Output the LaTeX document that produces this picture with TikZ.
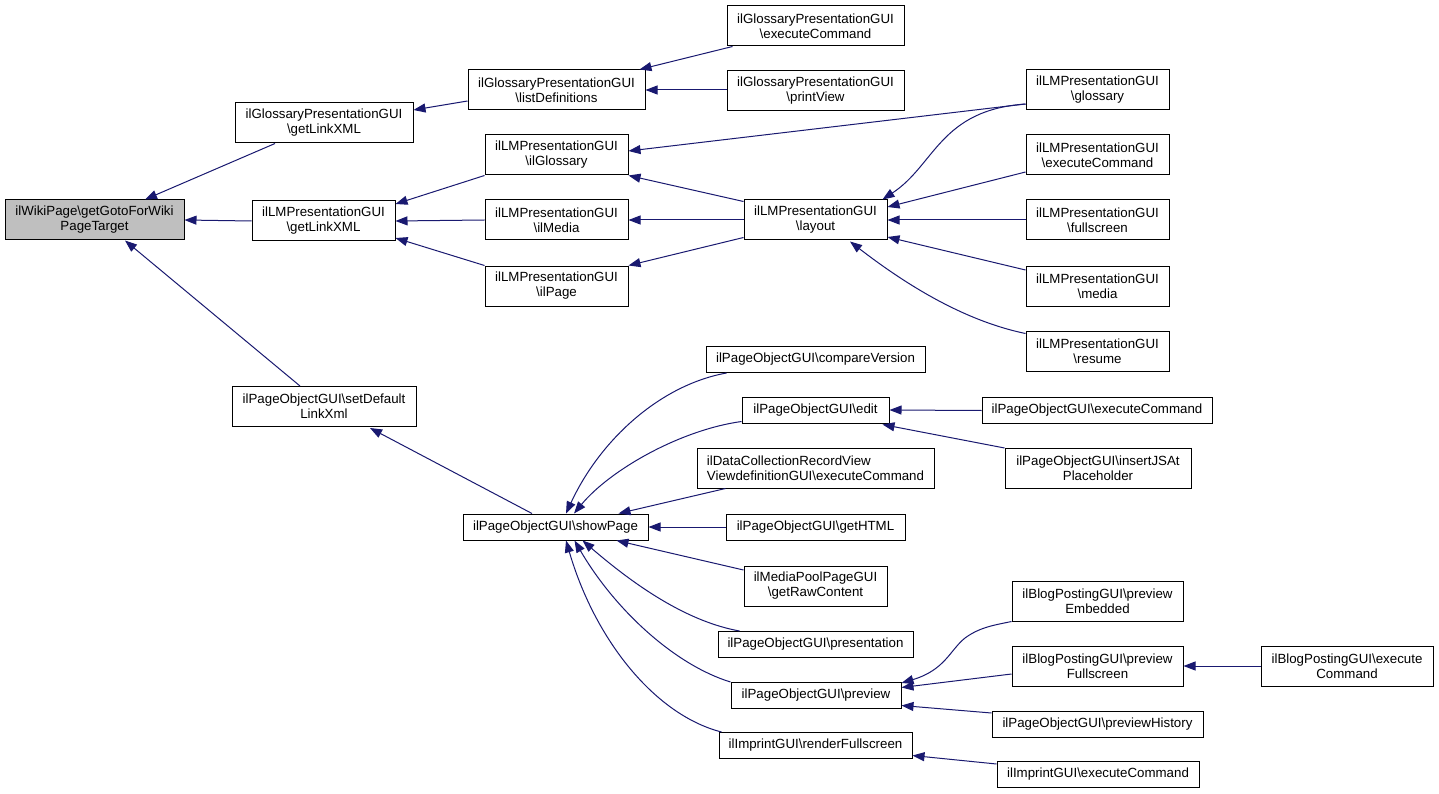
\documentclass[tikz,border=0pt]{standalone}
\usepackage{fontspec}
\setmainfont{Liberation Sans}
\usetikzlibrary{arrows.meta,calc}
\definecolor{edgecol}{HTML}{191970}
\definecolor{rootfill}{HTML}{BFBFBF}
\begin{document}
\begin{tikzpicture}[x=1pt,y=-1pt,
  box/.style={draw=black, line width=1pt, fill=white, inner sep=0pt, align=center,
    font=\fontsize{13.3}{15}\selectfont, minimum height=40pt},
  sbox/.style={box, minimum height=26pt},
  edge/.style={draw=edgecol, line width=1pt, {Triangle[length=12pt,width=9pt]}-}]
\path[use as bounding box, fill=white] (0,0) rectangle (1439,794);

% column 1
\node[box, fill=rootfill, minimum width=179pt] (wiki) at (94.5,220) {ilWikiPage\textbackslash getGotoForWiki\\PageTarget};
% column 2
\node[box, minimum width=178pt] (glgl) at (324,123) {ilGlossaryPresentationGUI\\\textbackslash getLinkXML};
\node[box, minimum width=143pt] (lmgl) at (323.5,221) {ilLMPresentationGUI\\\textbackslash getLinkXML};
\node[box, minimum width=184pt] (setdef) at (324,406.5) {ilPageObjectGUI\textbackslash setDefault\\LinkXml};
% column 3
\node[box, minimum width=177pt] (listdef) at (556.5,90) {ilGlossaryPresentationGUI\\\textbackslash listDefinitions};
\node[box, minimum width=143pt] (lmilglos) at (556.5,155) {ilLMPresentationGUI\\\textbackslash ilGlossary};
\node[box, minimum width=143pt] (lmilmedia) at (556.5,220) {ilLMPresentationGUI\\\textbackslash ilMedia};
\node[box, minimum width=143pt] (lmilpage) at (556.5,286) {ilLMPresentationGUI\\\textbackslash ilPage};
\node[sbox, minimum width=185pt] (showpage) at (555.5,527) {ilPageObjectGUI\textbackslash showPage};
% column 4
\node[box, minimum width=177pt] (glexec) at (815.5,26) {ilGlossaryPresentationGUI\\\textbackslash executeCommand};
\node[box, minimum width=177pt] (glprint) at (815.5,91) {ilGlossaryPresentationGUI\\\textbackslash printView};
\node[box, minimum width=143pt] (layout) at (815.5,220) {ilLMPresentationGUI\\\textbackslash layout};
\node[sbox, minimum width=219pt] (compare) at (815.5,359.5) {ilPageObjectGUI\textbackslash compareVersion};
\node[sbox, minimum width=147pt] (edit) at (815.5,410) {ilPageObjectGUI\textbackslash edit};
\node[box, minimum width=237pt, align=left] (datacoll) at (815.5,468) {ilDataCollectionRecordView\\ViewdefinitionGUI\textbackslash executeCommand};
\node[sbox, minimum width=179pt] (gethtml) at (815.5,527) {ilPageObjectGUI\textbackslash getHTML};
\node[box, minimum width=143pt] (mediapool) at (815.5,586) {ilMediaPoolPageGUI\\\textbackslash getRawContent};
\node[sbox, minimum width=195pt] (presentation) at (815.5,644.5) {ilPageObjectGUI\textbackslash presentation};
\node[sbox, minimum width=170pt] (preview) at (816,695.5) {ilPageObjectGUI\textbackslash preview};
\node[sbox, minimum width=193pt] (renderfull) at (815.5,745.5) {ilImprintGUI\textbackslash renderFullscreen};
% column 5
\node[box, minimum width=143pt] (lmglossary) at (1097.5,89.5) {ilLMPresentationGUI\\\textbackslash glossary};
\node[box, minimum width=143pt] (lmexec) at (1097.5,155) {ilLMPresentationGUI\\\textbackslash executeCommand};
\node[box, minimum width=143pt] (lmfull) at (1097.5,220) {ilLMPresentationGUI\\\textbackslash fullscreen};
\node[box, minimum width=143pt] (lmmedia) at (1097.5,286) {ilLMPresentationGUI\\\textbackslash media};
\node[box, minimum width=143pt] (lmresume) at (1097.5,351) {ilLMPresentationGUI\\\textbackslash resume};
\node[sbox, minimum width=230pt] (poexec) at (1097,410.5) {ilPageObjectGUI\textbackslash executeCommand};
\node[box, minimum width=186pt] (insertjs) at (1098,468.5) {ilPageObjectGUI\textbackslash insertJSAt\\Placeholder};
\node[box, minimum width=171pt] (prevemb) at (1097.5,601) {ilBlogPostingGUI\textbackslash preview\\Embedded};
\node[box, minimum width=171pt] (prevfull) at (1097.5,666) {ilBlogPostingGUI\textbackslash preview\\Fullscreen};
\node[sbox, minimum width=211pt] (prevhist) at (1097.5,724.5) {ilPageObjectGUI\textbackslash previewHistory};
\node[sbox, minimum width=202pt] (imprintexec) at (1098,774.5) {ilImprintGUI\textbackslash executeCommand};
% column 6
\node[box, minimum width=172pt] (blogexec) at (1347,666) {ilBlogPostingGUI\textbackslash execute\\Command};

% edges (arrow at the caller-graph parent)
\draw[edge] ($(wiki.north)+(50.5,0)$) -- ($(glgl.south)+(-49,0)$);
\draw[edge] (wiki.east) -- (lmgl.west);
\draw[edge] ($(wiki.south)+(30.5,0)$) -- ($(setdef.north)+(-24,0)$);
\draw[edge] ($(glgl.east)+(0,-13)$) -- ($(listdef.west)+(0,11)$);
\draw[edge] ($(listdef.north east)+(-6,0)$) -- ($(glexec.south west)+(6,0)$);
\draw[edge] (listdef.east) -- (glprint.west |- listdef.east);
\draw[edge] ($(lmgl.east)+(0,-17)$) -- (lmilglos.south west);
\draw[edge] (lmgl.east) -- (lmilmedia.west);
\draw[edge] ($(lmgl.east)+(0,17)$) -- (lmilpage.north west);
\draw[edge] ($(lmilglos.east)+(0,-4)$) -- ($(lmglossary.south west)+(0,-6)$);
\draw[edge] (lmilglos.south east) -- ($(layout.north west)+(0,2)$);
\draw[edge] (lmilmedia.east) -- (layout.west);
\draw[edge] (lmilpage.north east) -- ($(layout.south west)+(0,-3)$);
\draw[edge] ($(layout.north east)+(-5,0)$) .. controls (935,165) and (940,110) .. ($(lmglossary.south west)+(0,-6)$);
\draw[edge] ($(layout.east)+(0,-13)$) -- ($(lmexec.west)+(0,17)$);
\draw[edge] (layout.east) -- (lmfull.west);
\draw[edge] ($(layout.east)+(0,17)$) -- ($(lmmedia.west)+(0,-16)$);
\draw[edge] ($(layout.south)+(34.5,1)$) .. controls (900,280) and (960,320) .. ($(lmresume.north west)+(0,3)$);
\draw[edge] ($(setdef.south)+(46,1)$) -- ($(showpage.north)+(-23.5,0)$);
\draw[edge] ($(showpage.north)+(10.5,0)$) .. controls (600,440) and (660,385) .. ($(compare.south west)+(21,0)$);
\draw[edge] ($(showpage.north)+(18.5,0)$) .. controls (610,470) and (680,430) .. ($(edit.south west)+(0,-2)$);
\draw[edge] ($(showpage.north)+(63,0)$) -- ($(datacoll.south west)+(29,0)$);
\draw[edge] (showpage.east) -- (gethtml.west);
\draw[edge] ($(showpage.south)+(61,0)$) -- ($(mediapool.west)+(0,-16)$);
\draw[edge] ($(showpage.south)+(27,0)$) .. controls (640,590) and (690,622) .. ($(presentation.north west)+(22,0)$);
\draw[edge] ($(showpage.south)+(19,0)$) .. controls (615,610) and (675,665) .. (preview.north west);
\draw[edge] ($(showpage.south)+(10.5,0)$) .. controls (595,640) and (655,715) .. ($(renderfull.north west)+(3,0)$);
\draw[edge] (edit.east) -- (poexec.west);
\draw[edge] ($(edit.south east)+(-7,1)$) -- (insertjs.north west);
\draw[edge] ($(preview.north east)+(0,1)$) .. controls (945,670) and (950,650) .. (965,638) .. controls (980,627) and (995,625) .. (prevemb.south west);
\draw[edge] ($(preview.east)+(0,-8)$) -- ($(prevfull.west)+(0,8)$);
\draw[edge] ($(preview.east)+(0,10)$) -- ($(prevhist.west)+(0,-11.5)$);
\draw[edge] (prevfull.east) -- (blogexec.west);
\draw[edge] ($(renderfull.east)+(0,10)$) -- ($(imprintexec.west)+(0,-10.5)$);
\end{tikzpicture}
\end{document}
